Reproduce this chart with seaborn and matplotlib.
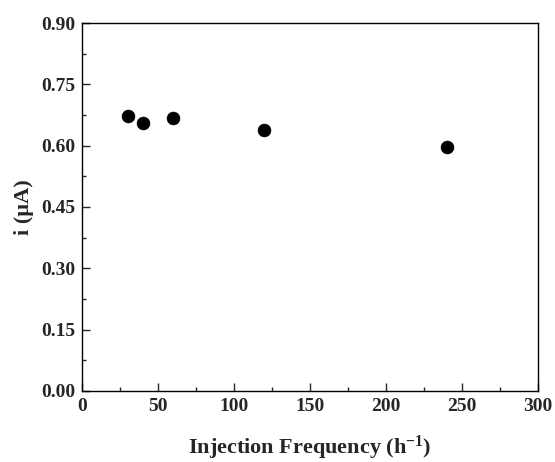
import seaborn as sns
import matplotlib.pyplot as plt
import pandas as pd
from matplotlib.ticker import MultipleLocator

# Dados
freq = [30, 40, 60, 120, 240]
current = [0.673, 0.655, 0.667, 0.638, 0.597]

df = pd.DataFrame({'freq': freq, 'current': current})

sns.set_style('ticks')
plt.rcParams['font.family'] = ['Liberation Serif', 'DejaVu Serif']
plt.rcParams['font.weight'] = 'bold'
plt.rcParams['mathtext.fontset'] = 'custom'
plt.rcParams['mathtext.rm'] = 'Liberation Serif:bold'
plt.rcParams['mathtext.bf'] = 'Liberation Serif:bold'
plt.rcParams['mathtext.default'] = 'rm'

fig = plt.figure(figsize=(5.55, 4.62), dpi=100)
ax = fig.add_axes([0.148, 0.154, 0.821, 0.796])
sns.scatterplot(data=df, x='freq', y='current', color='black', s=85,
                edgecolor='black', linewidth=0.5, ax=ax)

ax.set_xlim(0, 300)
ax.set_ylim(0, 0.90)
ax.xaxis.set_major_locator(MultipleLocator(50))
ax.xaxis.set_minor_locator(MultipleLocator(25))
ax.yaxis.set_major_locator(MultipleLocator(0.15))
ax.yaxis.set_minor_locator(MultipleLocator(0.075))
ax.yaxis.set_major_formatter(plt.FormatStrFormatter('%.2f'))
ax.tick_params(which='both', direction='in', top=False, right=False,
               labelsize=14, width=1)
ax.tick_params(which='major', length=6, pad=5)
ax.tick_params(which='minor', length=3)
for lab in ax.get_xticklabels() + ax.get_yticklabels():
    lab.set_fontweight('bold')
for sp in ax.spines.values():
    sp.set_visible(True)
    sp.set_linewidth(1)
    sp.set_color('black')

ax.set_xlabel('Injection Frequency (h$^{-1}$)', fontsize=16,
              fontweight='bold', labelpad=14)
ax.set_ylabel('i (\u00b5A)', fontsize=16, fontweight='bold', labelpad=5)

plt.savefig('out.png', dpi=100)
